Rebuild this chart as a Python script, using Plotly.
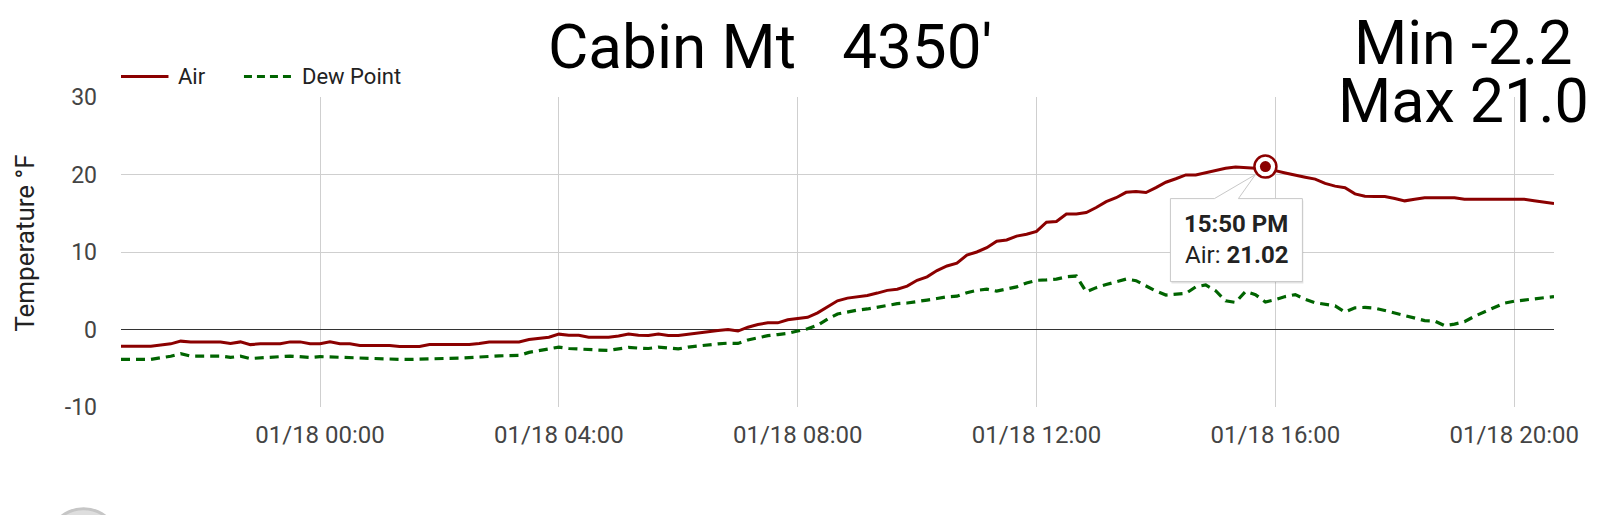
import plotly.graph_objects as go
import pandas as pd

# ---------------- data ----------------
start_time = "2024-01-17 20:40"
step = "10min"

air = [
    -2.15, -2.15, -2.15, -2.15, -2.0, -1.85, -1.5, -1.6, -1.6, -1.6,
    -1.6, -1.8, -1.6, -1.95, -1.85, -1.85, -1.85, -1.6, -1.6, -1.85,
    -1.85, -1.6, -1.85, -1.85, -2.05, -2.05, -2.05, -2.05, -2.2, -2.2,
    -2.2, -1.95, -1.95, -1.95, -1.95, -1.95, -1.8, -1.6, -1.6, -1.6,
    -1.6, -1.3, -1.15, -1.0, -0.6, -0.75, -0.75, -1.0, -1.0, -1.0,
    -0.85, -0.58, -0.75, -0.77, -0.58, -0.77, -0.77, -0.6, -0.4, -0.22,
    -0.13, 0.0, -0.2, 0.3, 0.65, 0.86, 0.86, 1.25, 1.4, 1.58,
    2.15, 2.9, 3.7, 4.05, 4.25, 4.38, 4.7, 5.05, 5.2, 5.6,
    6.35, 6.8, 7.6, 8.2, 8.55, 9.6, 10.0, 10.55, 11.4, 11.55,
    12.05, 12.3, 12.65, 13.85, 13.94, 14.9, 14.9, 15.1, 15.74, 16.5,
    17.0, 17.7, 17.8, 17.67, 18.3, 19.0, 19.45, 19.95, 19.95, 20.25,
    20.5, 20.8, 20.98, 20.85, 20.8, 21.02, 20.5, 20.2, 19.9, 19.65,
    19.4, 18.85, 18.5, 18.3, 17.5, 17.2, 17.15, 17.15, 16.9, 16.6,
    16.8, 17.0, 17.0, 17.0, 17.0, 16.8, 16.8, 16.8, 16.8, 16.8,
    16.8, 16.8, 16.6, 16.45, 16.25,
]

dew = [
    -3.86, -3.86, -3.86, -3.86, -3.65, -3.45, -3.13, -3.43, -3.43, -3.43,
    -3.43, -3.6, -3.45, -3.75, -3.7, -3.6, -3.5, -3.43, -3.5, -3.6,
    -3.5, -3.55, -3.6, -3.65, -3.7, -3.77, -3.8, -3.82, -3.85, -3.86,
    -3.8, -3.77, -3.75, -3.72, -3.7, -3.6, -3.5, -3.43, -3.4, -3.37,
    -3.35, -2.95, -2.75, -2.5, -2.27, -2.45, -2.55, -2.6, -2.65, -2.7,
    -2.45, -2.3, -2.4, -2.45, -2.27, -2.4, -2.5, -2.27, -2.1, -1.95,
    -1.85, -1.76, -1.8, -1.35, -1.05, -0.8, -0.65, -0.5, -0.2, 0.1,
    0.55, 1.35, 2.0, 2.3, 2.5, 2.65, 2.85, 3.1, 3.33, 3.42,
    3.65, 3.8, 4.0, 4.22, 4.3, 4.75, 5.05, 5.2, 4.95, 5.2,
    5.5, 6.0, 6.35, 6.4, 6.5, 6.8, 6.9, 4.85, 5.4, 5.8,
    6.1, 6.5, 6.3, 5.6, 4.95, 4.45, 4.5, 4.65, 5.5, 5.75,
    5.0, 3.7, 3.5, 4.9, 4.5, 3.55, 3.85, 4.25, 4.5, 3.9,
    3.45, 3.2, 3.05, 2.25, 2.8, 2.85, 2.75, 2.45, 2.1, 1.85,
    1.5, 1.15, 1.1, 0.5, 0.7, 1.0, 1.7, 2.3, 2.85, 3.4,
    3.65, 3.8, 3.9, 4.05, 4.25,
]

series_names = ["Air", "Dew Point"]
y_ticks = [-10, 0, 10, 20, 30]
y_tick_labels = ["-10", "0", "10", "20", "30"]
x_tick_start = "2024-01-18 00:00"
x_tick_hours = 4
title_text = "Cabin Mt\u00a0\u00a0 4350'"
y_title = "Temperature °F"

# ---------------- styling ----------------
AIR_COLOR = "#8b0000"
DEW_COLOR = "#006400"
GRID = "#cfcfcf"
FONT = "Roboto, Arial, sans-serif"

OFF = 8                      # page body margin (top/left)
W, H = 1600 - OFF, 515 - OFF
# plot area in page pixels
P_LEFT, P_RIGHT, P_TOP, P_BOTTOM = 120.5, 1554, 96.5, 407
ML = P_LEFT - OFF
MR = W - (P_RIGHT - OFF)
MT = P_TOP - OFF
MB = H - (P_BOTTOM - OFF)
PW, PH = W - ML - MR, H - MT - MB


def px(xp):
    return (xp - OFF - ML) / PW


def py(yp):
    return (H - MB - (yp - OFF)) / PH


times = pd.date_range(start_time, periods=len(air), freq=step)
imax = max(range(len(air)), key=lambda i: air[i])
t_max, v_max = times[imax], air[imax]

fig = go.Figure()
fig.add_trace(go.Scatter(x=times, y=air, name=series_names[0], mode="lines",
                         line=dict(color=AIR_COLOR, width=3), showlegend=False))
fig.add_trace(go.Scatter(x=times, y=dew, name=series_names[1], mode="lines",
                         line=dict(color=DEW_COLOR, width=3.2, dash="9px,6px"),
                         showlegend=False))
# highlighted max point
fig.add_trace(go.Scatter(x=[t_max], y=[v_max], mode="markers", showlegend=False,
                         marker=dict(size=22, color="white",
                                     line=dict(color=AIR_COLOR, width=2.5))))
fig.add_trace(go.Scatter(x=[t_max], y=[v_max], mode="markers", showlegend=False,
                         marker=dict(size=11, color=AIR_COLOR)))

shapes = []
annotations = []

# tooltip callout anchored at the max point (pixel offsets)
tip_path = "M -95,-32 L -51,-32 L -10,-8 L -27,-32 L 37,-32 L 37,-115 L -95,-115 Z"
shadow_path = "M -94,-34 L 38,-34 L 38,-117 L -94,-117 Z"
for pth, fill, lc, lw in [(shadow_path, "rgba(0,0,0,0.10)", "rgba(0,0,0,0)", 0),
                          (tip_path, "white", "#c8c8c8", 1)]:
    shapes.append(dict(type="path", xref="x", yref="y", xsizemode="pixel",
                       ysizemode="pixel", xanchor=t_max, yanchor=v_max,
                       path=pth, fillcolor=fill, line=dict(color=lc, width=lw),
                       layer="above"))
annotations.append(dict(x=t_max, y=v_max, xref="x", yref="y", showarrow=False,
                        xshift=-29, yshift=-57,
                        text="<b>" + t_max.strftime("%H:%M") + " PM</b>",
                        font=dict(family=FONT, size=24, color="#222")))
annotations.append(dict(x=t_max, y=v_max, xref="x", yref="y", showarrow=False,
                        xshift=-29, yshift=-88,
                        text=f"Air: <b>{v_max:.2f}</b>",
                        font=dict(family=FONT, size=24, color="#222")))

# custom legend
legend_y = py(76)
for name, color, dash, x0, x1, xt in [
        (series_names[0], AIR_COLOR, "solid", 120.5, 168, 176),
        (series_names[1], DEW_COLOR, "dash", 243.5, 291, 299.5)]:
    shapes.append(dict(type="line", xref="paper", yref="paper",
                       x0=px(x0), x1=px(x1), y0=legend_y, y1=legend_y,
                       line=dict(color=color, width=3,
                                 dash="solid" if dash == "solid" else "8px,5px")))
    annotations.append(dict(x=px(xt), y=legend_y, xref="paper", yref="paper",
                            xanchor="left", yanchor="middle", showarrow=False,
                            text=name, font=dict(family=FONT, size=22, color="#222")))

# title and min/max
annotations.append(dict(x=px(770), y=py(46), xref="paper", yref="paper",
                        xanchor="center", yanchor="middle", showarrow=False,
                        text=title_text,
                        font=dict(family=FONT, size=62, color="black")))
annotations.append(dict(x=px(1463), y=py(42), xref="paper", yref="paper",
                        xanchor="center", yanchor="middle", showarrow=False,
                        height=56, valign="middle",
                        text=f"Min {min(air):.1f}",
                        font=dict(family=FONT, size=61, color="black")))
annotations.append(dict(x=px(1463), y=py(101), xref="paper", yref="paper",
                        xanchor="center", yanchor="middle", showarrow=False,
                        height=56, valign="middle",
                        text=f"Max {max(air):.1f}",
                        font=dict(family=FONT, size=61, color="black")))
# y-axis title
annotations.append(dict(x=px(25), y=py(243), xref="paper", yref="paper",
                        xanchor="center", yanchor="middle", showarrow=False,
                        textangle=-90, text=y_title,
                        font=dict(family=FONT, size=26, color="#222")))

# partially visible round button at the bottom-left
shapes.append(dict(type="circle", xref="paper", yref="paper",
                   x0=px(47), x1=px(119), y0=py(581), y1=py(509),
                   fillcolor="#dedede", line=dict(color="#c6c6c6", width=3),
                   layer="above"))

fig.update_layout(
    width=W, height=H,
    margin=dict(l=ML, r=MR, t=MT, b=MB),
    paper_bgcolor="white", plot_bgcolor="white",
    showlegend=False,
    shapes=shapes, annotations=annotations,
    font=dict(family=FONT),
    xaxis=dict(type="date", range=[times[0], times[-1]],
               tick0=x_tick_start, dtick=x_tick_hours * 3600 * 1000,
               tickformat="%m/%d %H:%M", showgrid=True, gridcolor=GRID,
               gridwidth=1, showline=False, zeroline=False, ticks="",
               ticklabelstandoff=11,
               tickfont=dict(family=FONT, size=24, color="#444")),
    yaxis=dict(range=[y_ticks[0], y_ticks[-1]], tickvals=y_ticks,
               ticktext=y_tick_labels,
               showgrid=True, gridcolor=GRID, gridwidth=1, showline=False,
               zeroline=True, zerolinecolor="#333", zerolinewidth=1.2,
               ticks="", ticklabelstandoff=23,
               tickfont=dict(family=FONT, size=23, color="#444")),
)

fig.write_html("out.html")
